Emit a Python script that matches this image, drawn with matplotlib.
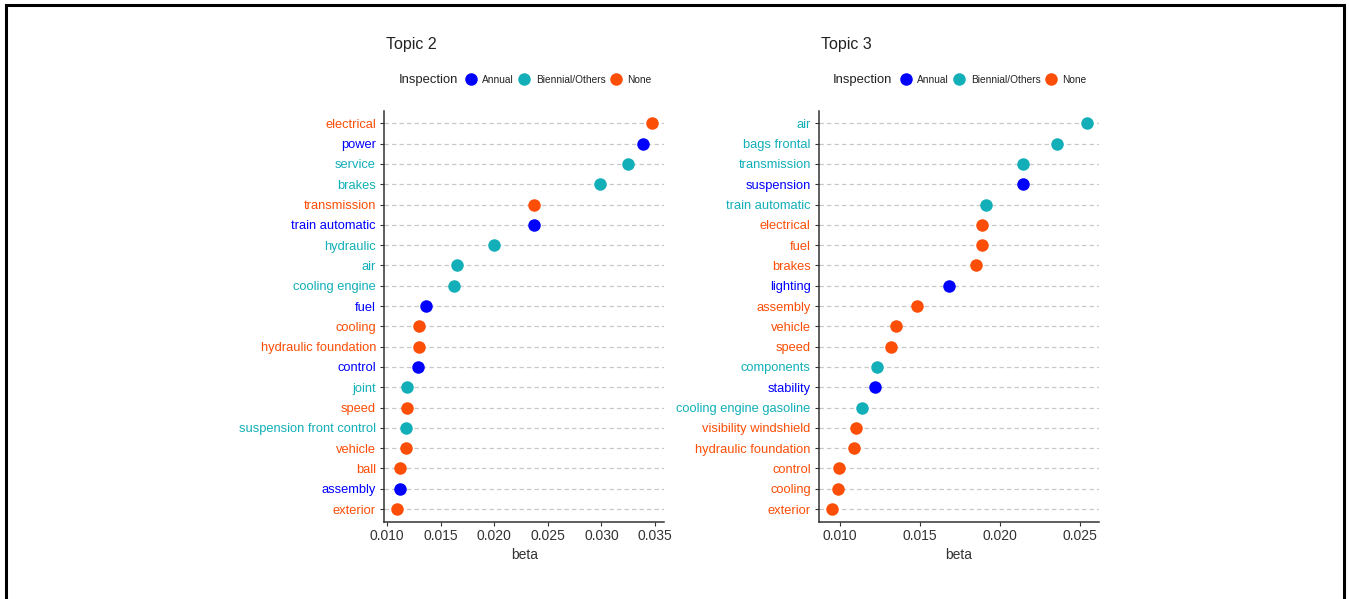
import matplotlib
matplotlib.use("Agg")
import matplotlib.pyplot as plt
from matplotlib.patches import Rectangle

plt.rcParams["font.family"] = ["Liberation Sans", "DejaVu Sans"]

COLORS = {"Annual": "#0000FF", "Biennial/Others": "#12AFB8", "None": "#FC4E07"}
INSPECTION_LEVELS = ["Annual", "Biennial/Others", "None"]

# Topic 2 (top to bottom)
topic2_terms = ["electrical", "power", "service", "brakes", "transmission",
                "train automatic", "hydraulic", "air", "cooling engine", "fuel",
                "cooling", "hydraulic foundation", "control", "joint", "speed",
                "suspension front control", "vehicle", "ball", "assembly", "exterior"]
topic2_beta = [0.0347, 0.0339, 0.0325, 0.0299, 0.0237,
               0.0237, 0.0200, 0.01656, 0.01625, 0.01361,
               0.01299, 0.0130, 0.01289, 0.0119, 0.0119,
               0.0118, 0.0118, 0.01118, 0.0112, 0.01096]
topic2_insp = ["None", "Annual", "Biennial/Others", "Biennial/Others", "None",
               "Annual", "Biennial/Others", "Biennial/Others", "Biennial/Others", "Annual",
               "None", "None", "Annual", "Biennial/Others", "None",
               "Biennial/Others", "None", "None", "Annual", "None"]

# Topic 3 (top to bottom)
topic3_terms = ["air", "bags frontal", "transmission", "suspension", "train automatic",
                "electrical", "fuel", "brakes", "lighting", "assembly",
                "vehicle", "speed", "components", "stability", "cooling engine gasoline",
                "visibility windshield", "hydraulic foundation", "control", "cooling", "exterior"]
topic3_beta = [0.02546, 0.02354, 0.02146, 0.02146, 0.01913,
               0.0189, 0.0189, 0.01852, 0.01683, 0.01479,
               0.0135, 0.01321, 0.01229, 0.01219, 0.01139,
               0.01098, 0.01088, 0.00996, 0.00986, 0.00948]
topic3_insp = ["Biennial/Others", "Biennial/Others", "Biennial/Others", "Annual", "Biennial/Others",
               "None", "None", "None", "Annual", "None",
               "None", "None", "Biennial/Others", "Annual", "Biennial/Others",
               "None", "None", "None", "None", "None"]

W, H = 1349, 599
fig = plt.figure(figsize=(W / 100, H / 100), dpi=100)


def px_box(left, right, top, bottom):
    return [left / W, 1 - bottom / H, (right - left) / W, (bottom - top) / H]


def dot_panel(ax, title, terms, beta, insp, xlim, xticks):
    n = len(terms)
    ys = list(range(n - 1, -1, -1))
    for y in ys:
        ax.axhline(y, color="#c8c8c8", lw=0.9, ls=(0, (3.5, 2.5)), zorder=1)
    for level in INSPECTION_LEVELS:
        xs = [b for b, i in zip(beta, insp) if i == level]
        yy = [y for y, i in zip(ys, insp) if i == level]
        ax.plot(xs, yy, "o", ms=9, color=COLORS[level], mec="none", zorder=3)
    ax.set_xlim(*xlim)
    ax.set_ylim(-0.62, n - 1 + 0.62)
    ax.set_yticks(ys)
    ax.set_yticklabels(terms)
    for lab, i in zip(ax.get_yticklabels(), insp):
        lab.set_color(COLORS[i])
    ax.set_xticks(xticks)
    ax.set_xticklabels([f"{t:.3f}" for t in xticks])
    ax.tick_params(axis="y", labelsize=9.3, length=3, color="#333333", pad=3)
    ax.tick_params(axis="x", labelsize=10, length=3, color="#333333", labelcolor="#333333", pad=2)
    for s in ["top", "right"]:
        ax.spines[s].set_visible(False)
    for s in ["left", "bottom"]:
        ax.spines[s].set_color("#333333")
        ax.spines[s].set_linewidth(1.1)
    ax.set_xlabel("beta", fontsize=10, color="#333333", labelpad=4)

    # title and legend above the panel, positioned relative to the axes box
    pos = ax.get_position()
    x0 = pos.x0
    fig.text(x0 + 2 / W, 1 - 43 / H, title, fontsize=11.5, color="#222222",
             va="center_baseline", ha="left")
    ly = 1 - 79 / H
    fig.text(x0 + 14 / W, ly, "Inspection", fontsize=9.4, color="#222222",
             va="center_baseline", ha="left")
    offsets = [(87, 98), (140, 152), (232, 243)]
    for level, (dx, tx) in zip(INSPECTION_LEVELS, offsets):
        fig.add_artist(plt.Line2D([x0 + dx / W], [ly], marker="o", ms=9, color=COLORS[level],
                                  mec="none", transform=fig.transFigure))
        fig.text(x0 + tx / W, ly, level, fontsize=7.3, color="#222222",
                 va="center_baseline", ha="left")


ax2 = fig.add_axes(px_box(384.3, 664.3, 110.7, 521.7))
dot_panel(ax2, "Topic 2", topic2_terms, topic2_beta, topic2_insp,
          (0.00975, 0.03587), [0.010, 0.015, 0.020, 0.025, 0.030, 0.035])

ax3 = fig.add_axes(px_box(819, 1099.3, 110.7, 521.7))
dot_panel(ax3, "Topic 3", topic3_terms, topic3_beta, topic3_insp,
          (0.00869, 0.02621), [0.010, 0.015, 0.020, 0.025])

# black frame around the whole figure
fig.add_artist(Rectangle((6 / W, -0.05), 1338 / W, 1 - 4.5 / H + 0.05, transform=fig.transFigure,
                         fill=False, ec="black", lw=2.2))

fig.savefig("out.png", dpi=100, facecolor="white")
